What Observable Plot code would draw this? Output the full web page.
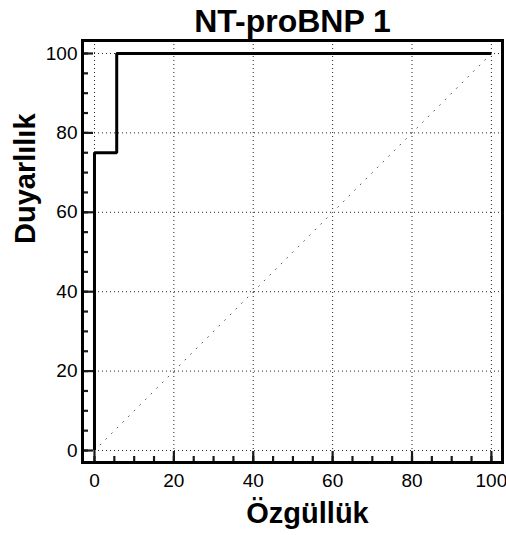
<!DOCTYPE html>
<html>
<head>
<meta charset="utf-8">
<script src="https://cdn.jsdelivr.net/npm/d3@7"></script>
<script src="https://cdn.jsdelivr.net/npm/@observablehq/plot@0.6"></script>
<style>
  html, body { margin: 0; padding: 0; background: #fff; }
  svg { display: block; }
</style>
</head>
<body>
<div id="chart"></div>
<script>
const title = "NT-proBNP 1";
const xLabel = "Özgüllük";
const yLabel = "Duyarlılık";

// ROC curve vertices (100 - specificity, sensitivity)
const rocX = [0, 0, 5.6, 5.6, 100];
const rocY = [0, 75, 75, 100, 100];

// reference diagonal
const diagX = [0, 100];
const diagY = [0, 100];

const majorTicks = [0, 20, 40, 60, 80, 100];
const minorTicks = [0, 5, 10, 15, 20, 25, 30, 35, 40, 45, 50, 55, 60, 65, 70, 75, 80, 85, 90, 95, 100];

const roc = rocX.map((x, i) => ({x, y: rocY[i]}));
const diag = diagX.map((x, i) => ({x, y: diagY[i]}));
const minorObj = minorTicks.map(v => ({v}));
const majorObj = majorTicks.map(v => ({v}));

const font = "'Liberation Sans', Arial, Helvetica, sans-serif";

const W = 506, H = 535;
const mL = 82, mR = 4, mT = 40, mB = 73;
const frameW = W - mL - mR;
const frameH = H - mT - mB;
const minorLen = 6, majorLen = 11;
const tickColor = "#1a1a1a";

const chart = Plot.plot({
  width: W,
  height: H,
  marginLeft: mL,
  marginRight: mR,
  marginTop: mT,
  marginBottom: mB,
  style: {fontFamily: font, background: "#fff", color: "#000", overflow: "visible"},
  x: {domain: [-3.02, 102.8], label: null},
  y: {domain: [-3.02, 103.27], label: null},
  marks: [
    Plot.gridX(majorTicks, {stroke: "#000", strokeOpacity: 0.85, strokeWidth: 1, strokeDasharray: "1,3"}),
    Plot.gridY(majorTicks, {stroke: "#000", strokeOpacity: 0.85, strokeWidth: 1, strokeDasharray: "1,3"}),
    Plot.line(diag, {x: "x", y: "y", stroke: "#555", strokeWidth: 1, strokeDasharray: "1,7"}),
    // inward ticks
    Plot.ruleX(minorObj, {x: "v", stroke: tickColor, strokeWidth: 2.2, insetTop: frameH - minorLen}),
    Plot.ruleX(majorObj, {x: "v", stroke: tickColor, strokeWidth: 2.2, insetTop: frameH - majorLen}),
    Plot.ruleY(minorObj, {y: "v", stroke: tickColor, strokeWidth: 2.2, insetRight: frameW - minorLen}),
    Plot.ruleY(majorObj, {y: "v", stroke: tickColor, strokeWidth: 2.2, insetRight: frameW - majorLen}),
    Plot.axisX(majorTicks, {anchor: "bottom", tickSize: 0, tickPadding: 11, fontSize: 19, label: null}),
    Plot.axisY(majorTicks, {anchor: "left", tickSize: 0, tickPadding: 5, fontSize: 19, label: null}),
    Plot.line(roc, {x: "x", y: "y", stroke: "#000", strokeWidth: 3, strokeLinejoin: "miter", strokeLinecap: "butt"}),
    Plot.frame({stroke: "#000", strokeWidth: 3}),
    Plot.text([title], {frameAnchor: "top", dy: -9, lineAnchor: "bottom", fontSize: 32, fontWeight: "bold", fill: "#000"}),
    Plot.text([xLabel], {frameAnchor: "bottom", dx: 15, dy: 60, lineAnchor: "bottom", fontSize: 29, fontWeight: "bold", fill: "#000"}),
    Plot.text([yLabel], {frameAnchor: "left", dx: -48, dy: -7.5, rotate: -90, lineAnchor: "bottom", fontSize: 29, fontWeight: "bold", fill: "#000"})
  ]
});

document.getElementById("chart").appendChild(chart);
</script>
</body>
</html>
